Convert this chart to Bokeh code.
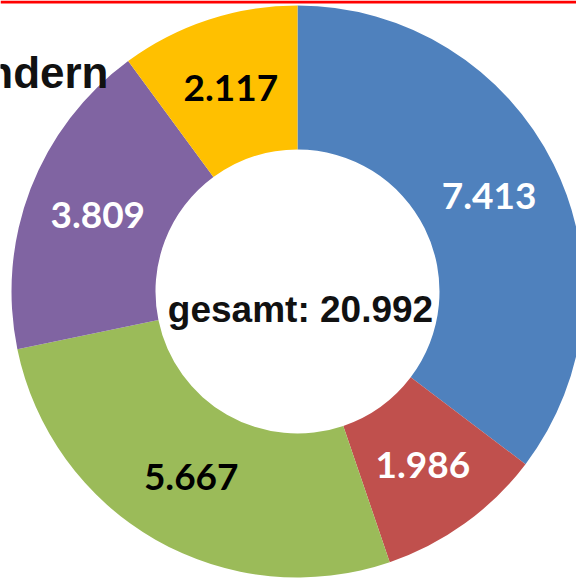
import math
from bokeh.plotting import figure
from bokeh.models import ColumnDataSource
from bokeh.core.properties import value
from bokeh.embed import file_html
from bokeh.resources import INLINE

# data (clockwise from 12 o'clock)
values = [7413, 1986, 5667, 3809, 2117]
labels = ["7.413", "1.986", "5.667", "3.809", "2.117"]
colors = ["#4F81BD", "#C0504D", "#9BBB59", "#8064A2", "#FFC000"]
label_colors = ["white", "white", "black", "white", "black"]
total_label = "gesamt: 20.992"
title_fragment = "ndern"

W, H = 576, 578
cx, cy = 297, H - 291
r_in, r_out = 142, 286

total = sum(values)
starts, ends, lx, ly = [], [], [], []
cum = 0
for v in values:
    a0 = math.pi / 2 - 2 * math.pi * cum / total
    cum += v
    a1 = math.pi / 2 - 2 * math.pi * cum / total
    starts.append(a0)
    ends.append(a1)
    mid = (a0 + a1) / 2
    rm = (r_in + r_out) / 2
    lx.append(cx + rm * math.cos(mid))
    ly.append(cy + rm * math.sin(mid))

src = ColumnDataSource(dict(start=starts, end=ends, color=colors,
                            lx=lx, ly=ly, label=labels, lcolor=label_colors))

p = figure(width=W, height=H, x_range=(0, W), y_range=(0, H),
           output_backend="svg", toolbar_location=None, min_border=0,
           tools="")
p.axis.visible = False
p.grid.visible = False
p.outline_line_color = None
p.background_fill_color = "white"

# red line at top
p.quad(left=0, right=W, bottom=H - 3, top=H, color="#FF0000", line_color=None)

p.annular_wedge(x=cx, y=cy, inner_radius=r_in, outer_radius=r_out,
                start_angle="start", end_angle="end", direction="clock",
                color="color", line_color=None, source=src)

p.text(x="lx", y="ly", text="label", text_color="lcolor", source=src,
       text_font=value("Lato"), text_font_style="bold", text_font_size="37px",
       text_align="center", text_baseline="middle")

p.text(x=[300], y=[H - 309], text=[total_label], text_color="#111111",
       text_font=value("Liberation Sans"), text_font_style="bold",
       text_font_size="37px", text_align="center", text_baseline="alphabetic")

p.text(x=[108], y=[H - 72], text=[title_fragment], text_color="#111111",
       text_font=value("Liberation Sans"), text_font_style="bold",
       text_font_size="44px", text_align="right", text_baseline="alphabetic")

open("out.html", "w").write(file_html(p, INLINE))
